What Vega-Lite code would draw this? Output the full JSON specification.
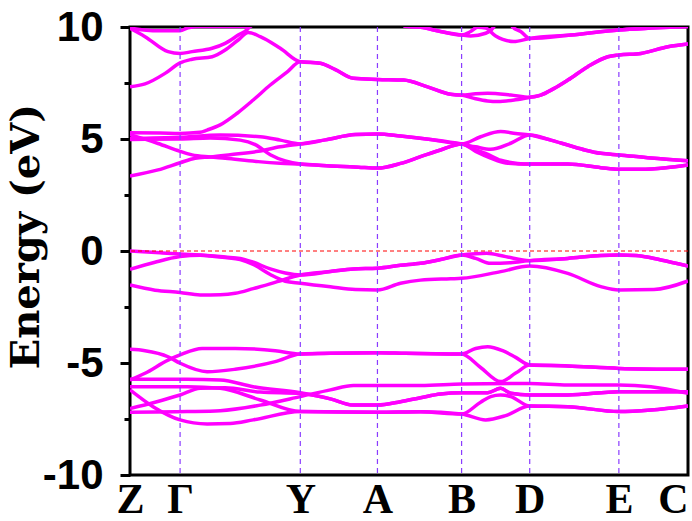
{
"$schema":"https://vega.github.io/schema/vega-lite/v6.json",
"width":558,"height":448,
"autosize":{"type":"none"},
"padding":{"left":130,"top":27,"right":4,"bottom":46},
"background":"white",
"config":{"view":{"stroke":"black","strokeWidth":3}},
"datasets":{
"bands":[
{"b":"T1","k":0,"e":7.33},{"b":"T1","k":15,"e":7.46},{"b":"T1","k":35,"e":7.93},{"b":"T1","k":50,"e":8.4},{"b":"T1","k":62,"e":8.56},{"b":"T1","k":82,"e":8.67},{"b":"T1","k":95,"e":8.97},{"b":"T1","k":108,"e":9.42},{"b":"T1","k":118,"e":9.75},{"b":"T1","k":130,"e":9.57},{"b":"T1","k":150,"e":9.05},{"b":"T1","k":170,"e":8.45},{"b":"T1","k":190,"e":8.38},{"b":"T1","k":205,"e":8.1},{"b":"T1","k":223,"e":7.71},{"b":"T1","k":247,"e":7.66},{"b":"T1","k":273,"e":7.63},{"b":"T1","k":297,"e":7.33},{"b":"T1","k":320,"e":7.0},{"b":"T1","k":331,"e":6.96},{"b":"T1","k":345,"e":7.02},{"b":"T1","k":357,"e":7.04},{"b":"T1","k":380,"e":6.96},{"b":"T1","k":399,"e":6.86},{"b":"T1","k":410,"e":6.96},{"b":"T1","k":423,"e":7.25},{"b":"T1","k":437,"e":7.63},{"b":"T1","k":457,"e":8.23},{"b":"T1","k":477,"e":8.67},{"b":"T1","k":488,"e":8.75},{"b":"T1","k":510,"e":8.82},{"b":"T1","k":537,"e":9.12},{"b":"T1","k":557,"e":9.24},
{"b":"C3","k":0,"e":5.28},{"b":"C3","k":30,"e":5.27},{"b":"C3","k":50,"e":5.25},{"b":"C3","k":70,"e":5.3},{"b":"C3","k":77,"e":5.4},{"b":"C3","k":90,"e":5.63},{"b":"C3","k":107,"e":6.15},{"b":"C3","k":123,"e":6.74},{"b":"C3","k":140,"e":7.41},{"b":"C3","k":157,"e":8.0},{"b":"C3","k":170,"e":8.45},{"b":"C3","k":190,"e":8.38},{"b":"C3","k":205,"e":8.1},{"b":"C3","k":223,"e":7.71},{"b":"C3","k":247,"e":7.66},{"b":"C3","k":273,"e":7.63},{"b":"C3","k":297,"e":7.33},{"b":"C3","k":320,"e":7.0},{"b":"C3","k":331,"e":6.96},{"b":"C3","k":345,"e":6.8},{"b":"C3","k":357,"e":6.7},{"b":"C3","k":367,"e":6.67},{"b":"C3","k":385,"e":6.75},{"b":"C3","k":399,"e":6.86},{"b":"C3","k":410,"e":6.96},{"b":"C3","k":423,"e":7.25},{"b":"C3","k":437,"e":7.63},{"b":"C3","k":457,"e":8.23},{"b":"C3","k":477,"e":8.67},{"b":"C3","k":488,"e":8.75},{"b":"C3","k":510,"e":8.82},{"b":"C3","k":537,"e":9.12},{"b":"C3","k":557,"e":9.24},
{"b":"T2","k":0,"e":9.94},{"b":"T2","k":15,"e":9.57},{"b":"T2","k":38,"e":8.9},{"b":"T2","k":50,"e":8.82},{"b":"T2","k":62,"e":8.9},{"b":"T2","k":82,"e":9.05},{"b":"T2","k":95,"e":9.27},{"b":"T2","k":108,"e":9.64},{"b":"T2","k":118,"e":9.94},{"b":"T2","k":122,"e":10.3},
{"b":"T3","k":0,"e":9.95},{"b":"T3","k":28,"e":9.83},{"b":"T3","k":50,"e":9.83},{"b":"T3","k":58,"e":9.97},{"b":"T3","k":70,"e":10.02},{"b":"T3","k":120,"e":10.02},{"b":"T3","k":125,"e":10.3},
{"b":"TA","k":268,"e":10.3},{"b":"TA","k":275,"e":10.03},{"b":"TA","k":290,"e":9.99},{"b":"TA","k":310,"e":9.8},{"b":"TA","k":331,"e":9.64},{"b":"TA","k":340,"e":9.8},{"b":"TA","k":347,"e":9.99},{"b":"TA","k":355,"e":9.95},{"b":"TA","k":365,"e":9.6},{"b":"TA","k":372,"e":9.45},{"b":"TA","k":383,"e":9.35},{"b":"TA","k":399,"e":9.49},{"b":"TA","k":440,"e":9.64},{"b":"TA","k":488,"e":9.87},{"b":"TA","k":520,"e":9.95},{"b":"TA","k":557,"e":10.02},
{"b":"TB","k":268,"e":10.3},{"b":"TB","k":275,"e":10.03},{"b":"TB","k":290,"e":9.99},{"b":"TB","k":310,"e":9.8},{"b":"TB","k":331,"e":9.64},{"b":"TB","k":340,"e":9.6},{"b":"TB","k":355,"e":9.72},{"b":"TB","k":363,"e":10.0},{"b":"TB","k":366,"e":10.3},
{"b":"TC","k":378,"e":10.3},{"b":"TC","k":382,"e":10.0},{"b":"TC","k":390,"e":9.8},{"b":"TC","k":399,"e":9.49},{"b":"TC","k":440,"e":9.64},{"b":"TC","k":488,"e":9.87},{"b":"TC","k":520,"e":9.95},{"b":"TC","k":557,"e":10.02},
{"b":"C1","k":0,"e":3.35},{"b":"C1","k":28,"e":3.62},{"b":"C1","k":50,"e":3.94},{"b":"C1","k":65,"e":4.14},{"b":"C1","k":80,"e":4.2},{"b":"C1","k":100,"e":4.3},{"b":"C1","k":128,"e":4.45},{"b":"C1","k":150,"e":4.65},{"b":"C1","k":170,"e":4.78},{"b":"C1","k":195,"e":4.96},{"b":"C1","k":225,"e":5.2},{"b":"C1","k":247,"e":5.22},{"b":"C1","k":270,"e":5.13},{"b":"C1","k":300,"e":4.98},{"b":"C1","k":331,"e":4.78},{"b":"C1","k":350,"e":5.1},{"b":"C1","k":370,"e":5.33},{"b":"C1","k":385,"e":5.25},{"b":"C1","k":399,"e":5.18},{"b":"C1","k":420,"e":4.95},{"b":"C1","k":437,"e":4.73},{"b":"C1","k":455,"e":4.5},{"b":"C1","k":470,"e":4.36},{"b":"C1","k":488,"e":4.29},{"b":"C1","k":520,"e":4.15},{"b":"C1","k":557,"e":4.03},
{"b":"C2","k":0,"e":5.03},{"b":"C2","k":50,"e":5.08},{"b":"C2","k":90,"e":5.18},{"b":"C2","k":130,"e":5.1},{"b":"C2","k":150,"e":4.95},{"b":"C2","k":170,"e":4.78},{"b":"C2","k":195,"e":4.96},{"b":"C2","k":225,"e":5.2},{"b":"C2","k":247,"e":5.22},{"b":"C2","k":270,"e":5.13},{"b":"C2","k":300,"e":4.98},{"b":"C2","k":331,"e":4.78},{"b":"C2","k":345,"e":4.65},{"b":"C2","k":360,"e":4.54},{"b":"C2","k":380,"e":4.81},{"b":"C2","k":399,"e":5.18},{"b":"C2","k":420,"e":4.95},{"b":"C2","k":437,"e":4.73},{"b":"C2","k":455,"e":4.5},{"b":"C2","k":470,"e":4.36},{"b":"C2","k":488,"e":4.29},{"b":"C2","k":520,"e":4.15},{"b":"C2","k":557,"e":4.03},
{"b":"C5","k":0,"e":5.2},{"b":"C5","k":28,"e":4.8},{"b":"C5","k":50,"e":4.45},{"b":"C5","k":62,"e":4.29},{"b":"C5","k":80,"e":4.2},{"b":"C5","k":95,"e":4.14},{"b":"C5","k":128,"e":3.99},{"b":"C5","k":150,"e":3.92},{"b":"C5","k":170,"e":3.88},{"b":"C5","k":200,"e":3.8},{"b":"C5","k":228,"e":3.74},{"b":"C5","k":247,"e":3.7},{"b":"C5","k":270,"e":3.91},{"b":"C5","k":290,"e":4.21},{"b":"C5","k":310,"e":4.51},{"b":"C5","k":331,"e":4.78},{"b":"C5","k":345,"e":4.52},{"b":"C5","k":355,"e":4.36},{"b":"C5","k":370,"e":4.05},{"b":"C5","k":387,"e":3.91},{"b":"C5","k":399,"e":3.88},{"b":"C5","k":437,"e":3.88},{"b":"C5","k":470,"e":3.72},{"b":"C5","k":488,"e":3.65},{"b":"C5","k":510,"e":3.65},{"b":"C5","k":535,"e":3.72},{"b":"C5","k":557,"e":3.84},
{"b":"C6","k":0,"e":4.98},{"b":"C6","k":50,"e":5.0},{"b":"C6","k":80,"e":5.05},{"b":"C6","k":110,"e":4.95},{"b":"C6","k":125,"e":4.75},{"b":"C6","k":140,"e":4.3},{"b":"C6","k":155,"e":4.02},{"b":"C6","k":170,"e":3.88},{"b":"C6","k":200,"e":3.8},{"b":"C6","k":228,"e":3.74},{"b":"C6","k":247,"e":3.7},{"b":"C6","k":270,"e":3.91},{"b":"C6","k":290,"e":4.21},{"b":"C6","k":310,"e":4.51},{"b":"C6","k":331,"e":4.78},{"b":"C6","k":345,"e":4.45},{"b":"C6","k":360,"e":4.15},{"b":"C6","k":375,"e":3.93},{"b":"C6","k":399,"e":3.88},{"b":"C6","k":437,"e":3.88},{"b":"C6","k":470,"e":3.72},{"b":"C6","k":488,"e":3.65},{"b":"C6","k":510,"e":3.65},{"b":"C6","k":535,"e":3.72},{"b":"C6","k":557,"e":3.84},
{"b":"Va","k":0,"e":0.0},{"b":"Va","k":30,"e":-0.08},{"b":"Va","k":50,"e":-0.13},{"b":"Va","k":70,"e":-0.18},{"b":"Va","k":80,"e":-0.21},{"b":"Va","k":95,"e":-0.27},{"b":"Va","k":110,"e":-0.33},{"b":"Va","k":123,"e":-0.5},{"b":"Va","k":140,"e":-0.8},{"b":"Va","k":155,"e":-0.98},{"b":"Va","k":170,"e":-1.07},{"b":"Va","k":200,"e":-0.92},{"b":"Va","k":223,"e":-0.8},{"b":"Va","k":247,"e":-0.77},{"b":"Va","k":270,"e":-0.64},{"b":"Va","k":290,"e":-0.55},{"b":"Va","k":310,"e":-0.38},{"b":"Va","k":331,"e":-0.18},{"b":"Va","k":345,"e":-0.12},{"b":"Va","k":356,"e":-0.1},{"b":"Va","k":375,"e":-0.25},{"b":"Va","k":399,"e":-0.43},{"b":"Va","k":437,"e":-0.33},{"b":"Va","k":470,"e":-0.2},{"b":"Va","k":488,"e":-0.18},{"b":"Va","k":505,"e":-0.2},{"b":"Va","k":530,"e":-0.4},{"b":"Va","k":557,"e":-0.67},
{"b":"Vb","k":0,"e":-0.82},{"b":"Vb","k":25,"e":-0.5},{"b":"Vb","k":50,"e":-0.25},{"b":"Vb","k":70,"e":-0.19},{"b":"Vb","k":80,"e":-0.22},{"b":"Vb","k":95,"e":-0.29},{"b":"Vb","k":110,"e":-0.38},{"b":"Vb","k":123,"e":-0.6},{"b":"Vb","k":140,"e":-1.05},{"b":"Vb","k":155,"e":-1.35},{"b":"Vb","k":170,"e":-1.44},{"b":"Vb","k":200,"e":-1.6},{"b":"Vb","k":225,"e":-1.72},{"b":"Vb","k":247,"e":-1.74},{"b":"Vb","k":270,"e":-1.44},{"b":"Vb","k":290,"e":-1.3},{"b":"Vb","k":320,"e":-1.24},{"b":"Vb","k":331,"e":-1.22},{"b":"Vb","k":370,"e":-0.92},{"b":"Vb","k":399,"e":-0.67},{"b":"Vb","k":437,"e":-1.0},{"b":"Vb","k":470,"e":-1.59},{"b":"Vb","k":488,"e":-1.74},{"b":"Vb","k":523,"e":-1.72},{"b":"Vb","k":557,"e":-1.34},
{"b":"Vc","k":0,"e":-1.52},{"b":"Vc","k":25,"e":-1.75},{"b":"Vc","k":50,"e":-1.85},{"b":"Vc","k":70,"e":-1.96},{"b":"Vc","k":90,"e":-1.95},{"b":"Vc","k":105,"e":-1.89},{"b":"Vc","k":123,"e":-1.68},{"b":"Vc","k":147,"e":-1.37},{"b":"Vc","k":170,"e":-1.07},{"b":"Vc","k":200,"e":-0.92},{"b":"Vc","k":223,"e":-0.8},{"b":"Vc","k":247,"e":-0.77},{"b":"Vc","k":270,"e":-0.64},{"b":"Vc","k":290,"e":-0.55},{"b":"Vc","k":310,"e":-0.38},{"b":"Vc","k":331,"e":-0.18},{"b":"Vc","k":345,"e":-0.33},{"b":"Vc","k":360,"e":-0.55},{"b":"Vc","k":380,"e":-0.52},{"b":"Vc","k":399,"e":-0.43},{"b":"Vc","k":437,"e":-0.33},{"b":"Vc","k":470,"e":-0.2},{"b":"Vc","k":488,"e":-0.18},{"b":"Vc","k":505,"e":-0.2},{"b":"Vc","k":530,"e":-0.4},{"b":"Vc","k":557,"e":-0.67},
{"b":"L1","k":0,"e":-4.39},{"b":"L1","k":15,"e":-4.45},{"b":"L1","k":38,"e":-4.72},{"b":"L1","k":50,"e":-5.01},{"b":"L1","k":77,"e":-5.39},{"b":"L1","k":105,"e":-5.28},{"b":"L1","k":145,"e":-4.94},{"b":"L1","k":170,"e":-4.6},{"b":"L1","k":200,"e":-4.56},{"b":"L1","k":247,"e":-4.54},{"b":"L1","k":275,"e":-4.57},{"b":"L1","k":331,"e":-4.6},{"b":"L1","k":345,"e":-4.35},{"b":"L1","k":357,"e":-4.27},{"b":"L1","k":372,"e":-4.45},{"b":"L1","k":385,"e":-4.75},{"b":"L1","k":399,"e":-5.09},{"b":"L1","k":437,"e":-5.13},{"b":"L1","k":488,"e":-5.24},{"b":"L1","k":557,"e":-5.28},
{"b":"L2","k":0,"e":-5.76},{"b":"L2","k":15,"e":-5.46},{"b":"L2","k":38,"e":-4.87},{"b":"L2","k":50,"e":-4.64},{"b":"L2","k":72,"e":-4.35},{"b":"L2","k":105,"e":-4.35},{"b":"L2","k":145,"e":-4.45},{"b":"L2","k":170,"e":-4.6},{"b":"L2","k":200,"e":-4.56},{"b":"L2","k":247,"e":-4.54},{"b":"L2","k":275,"e":-4.57},{"b":"L2","k":331,"e":-4.6},{"b":"L2","k":350,"e":-5.2},{"b":"L2","k":370,"e":-5.83},{"b":"L2","k":385,"e":-5.45},{"b":"L2","k":399,"e":-5.09},{"b":"L2","k":437,"e":-5.13},{"b":"L2","k":488,"e":-5.24},{"b":"L2","k":557,"e":-5.28},
{"b":"D1","k":0,"e":-5.73},{"b":"D1","k":57,"e":-5.73},{"b":"D1","k":90,"e":-5.76},{"b":"D1","k":123,"e":-6.06},{"b":"D1","k":170,"e":-6.33},{"b":"D1","k":200,"e":-6.6},{"b":"D1","k":223,"e":-6.88},{"b":"D1","k":247,"e":-6.88},{"b":"D1","k":270,"e":-6.73},{"b":"D1","k":290,"e":-6.55},{"b":"D1","k":310,"e":-6.38},{"b":"D1","k":331,"e":-6.33},{"b":"D1","k":357,"e":-6.33},{"b":"D1","k":370,"e":-6.13},{"b":"D1","k":380,"e":-6.35},{"b":"D1","k":399,"e":-6.43},{"b":"D1","k":437,"e":-6.43},{"b":"D1","k":488,"e":-6.28},{"b":"D1","k":557,"e":-6.28},
{"b":"D3","k":0,"e":-7.03},{"b":"D3","k":25,"e":-6.75},{"b":"D3","k":50,"e":-6.43},{"b":"D3","k":70,"e":-6.13},{"b":"D3","k":95,"e":-6.1},{"b":"D3","k":130,"e":-6.3},{"b":"D3","k":170,"e":-6.36},{"b":"D3","k":200,"e":-6.6},{"b":"D3","k":223,"e":-6.88},{"b":"D3","k":247,"e":-6.88},{"b":"D3","k":270,"e":-6.73},{"b":"D3","k":290,"e":-6.55},{"b":"D3","k":310,"e":-6.38},{"b":"D3","k":331,"e":-6.33},{"b":"D3","k":357,"e":-6.33},{"b":"D3","k":370,"e":-6.13},{"b":"D3","k":380,"e":-6.35},{"b":"D3","k":399,"e":-6.43},{"b":"D3","k":437,"e":-6.43},{"b":"D3","k":488,"e":-6.28},{"b":"D3","k":557,"e":-6.28},
{"b":"D4","k":0,"e":-7.2},{"b":"D4","k":57,"e":-7.17},{"b":"D4","k":90,"e":-7.13},{"b":"D4","k":130,"e":-6.88},{"b":"D4","k":170,"e":-6.5},{"b":"D4","k":200,"e":-6.2},{"b":"D4","k":223,"e":-6.01},{"b":"D4","k":247,"e":-6.01},{"b":"D4","k":290,"e":-6.01},{"b":"D4","k":331,"e":-5.94},{"b":"D4","k":399,"e":-5.91},{"b":"D4","k":437,"e":-5.98},{"b":"D4","k":488,"e":-5.98},{"b":"D4","k":520,"e":-6.06},{"b":"D4","k":557,"e":-6.35},
{"b":"D2","k":0,"e":-6.06},{"b":"D2","k":57,"e":-6.06},{"b":"D2","k":90,"e":-6.13},{"b":"D2","k":130,"e":-6.65},{"b":"D2","k":170,"e":-7.17},{"b":"D2","k":247,"e":-7.2},{"b":"D2","k":290,"e":-7.18},{"b":"D2","k":331,"e":-7.28},{"b":"D2","k":350,"e":-6.75},{"b":"D2","k":360,"e":-6.5},{"b":"D2","k":370,"e":-6.43},{"b":"D2","k":380,"e":-6.5},{"b":"D2","k":399,"e":-6.92},{"b":"D2","k":437,"e":-6.95},{"b":"D2","k":488,"e":-7.17},{"b":"D2","k":520,"e":-7.1},{"b":"D2","k":557,"e":-6.92},
{"b":"D5","k":0,"e":-6.2},{"b":"D5","k":23,"e":-6.95},{"b":"D5","k":50,"e":-7.54},{"b":"D5","k":77,"e":-7.72},{"b":"D5","k":100,"e":-7.7},{"b":"D5","k":123,"e":-7.54},{"b":"D5","k":170,"e":-7.17},{"b":"D5","k":247,"e":-7.2},{"b":"D5","k":290,"e":-7.18},{"b":"D5","k":331,"e":-7.28},{"b":"D5","k":355,"e":-7.54},{"b":"D5","k":375,"e":-7.35},{"b":"D5","k":399,"e":-6.92},{"b":"D5","k":437,"e":-6.95},{"b":"D5","k":488,"e":-7.17},{"b":"D5","k":520,"e":-7.1},{"b":"D5","k":557,"e":-6.92}
],
"kpts":[{"k":50},{"k":170},{"k":247},{"k":331},{"k":399},{"k":488}],
"fermi":[{"e":0}]
},
"layer":[
{"data":{"name":"bands"},"mark":{"type":"line","color":"#ff00ff","strokeWidth":3.5,"interpolate":"monotone","clip":true},
 "encoding":{
  "x":{"field":"k","type":"quantitative","scale":{"domain":[0,557],"nice":false,"zero":false},
   "axis":{"title":null,"values":[0,50,170,247,331,399,488,557],"grid":false,"domain":false,"ticks":false,
     "labelExpr":"datum.value==0?'Z':datum.value==50?'Γ':datum.value==170?'Y':datum.value==247?'A':datum.value==331?'B':datum.value==399?'D':datum.value==488?'E':'C'",
     "labelFont":"Liberation Serif","labelFontWeight":"bold","labelFontSize":42,"labelColor":"black","labelPadding":4,"labelFlush":false,
     "labelAlign":{"condition":{"test":"datum.value==557","value":"right"},"value":"center"},
     "labelOverlap":false,"labelBound":false}},
  "y":{"field":"e","type":"quantitative","scale":{"domain":[-10,10],"nice":false},
   "axis":{"title":"Energy (eV)","values":[-10,-7.5,-5,-2.5,0,2.5,5,7.5,10],"grid":false,"domain":false,
     "labelExpr":"datum.value%5==0?(''+datum.value):''",
     "tickColor":"black","tickWidth":3,"tickSize":{"condition":{"test":"datum.value%5==0","value":10},"value":6},
     "labelFont":"Liberation Sans","labelFontWeight":"bold","labelFontSize":42,"labelColor":"black","labelPadding":17,
     "labelOverlap":false,"labelFlush":false,
     "titleFont":"DejaVu Serif","titleFontWeight":"bold","titleFontSize":40,"titleColor":"black","titleX":-84,"titleY":209,"titleAngle":-90,"titleBaseline":"bottom","titleAlign":"center"}},
  "detail":{"field":"b","type":"nominal"}
 }},
{"data":{"name":"kpts"},"mark":{"type":"rule","color":"#8a3cff","strokeWidth":1.2,"strokeDash":[5,4]},
 "encoding":{"x":{"field":"k","type":"quantitative"}}},
{"data":{"name":"fermi"},"mark":{"type":"rule","color":"#ff0000","strokeWidth":1,"strokeDash":[4,3]},
 "encoding":{"y":{"field":"e","type":"quantitative"}}}
]
}
